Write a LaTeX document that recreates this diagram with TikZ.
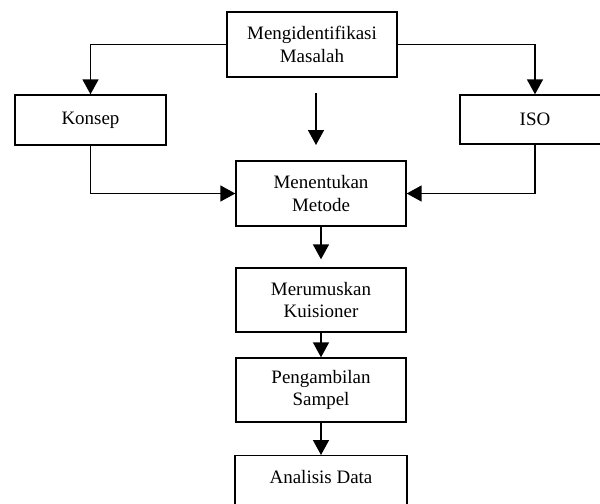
\documentclass[tikz,border=0pt]{standalone}
\usepackage{fontspec}
\setmainfont{Liberation Serif}
\usetikzlibrary{arrows.meta}

\tikzset{
	box/.style={draw, line width=0.8pt, align=center, inner sep=0pt,
		font=\fontsize{10.8}{13}\selectfont},
	flow/.style={line width=0.9pt, -{Triangle[width=0.32cm, length=0.3cm]}}
}

\begin{document}
\begin{tikzpicture}[x=0.02cm, y=-0.02cm]
	\useasboundingbox (0, 0) rectangle (600, 504);

	\node[box, minimum width=3.4cm, minimum height=1.3cm] (masalah) at (312, 44.5) {Mengidentifikasi\\Masalah};
	\node[box, minimum width=3.02cm, minimum height=1cm] (konsep) at (90.5, 120) {Konsep};
	\node[box, minimum width=3cm, minimum height=0.98cm] (iso) at (535, 119.5) {ISO};

	\node[box, minimum width=3.4cm, minimum height=1.3cm] (metode) at (321, 193.5) {Menentukan\\Metode};
	\node[box, minimum width=3.4cm, minimum height=1.28cm] (kuisioner) at (321, 300) {Merumuskan\\Kuisioner};
	\node[box, minimum width=3.4cm, minimum height=1.28cm] (sampel) at (321, 390) {Pengambilan\\Sampel};
	\node[box, minimum width=3.44cm, anchor=north, text height=0.56cm, text depth=1cm] (analisis) at (321, 455) {Analisis Data};

	% branches from the problem
	\draw[flow] (masalah.west) -| (konsep.north);
	\draw[flow] (masalah.east) -| (iso.north);
	\coordinate (gaptop) at (316, 93);
	\coordinate (gapend) at (316, 145);
	\draw[flow] (gaptop) -- (gapend);

	% into the method
	\draw[flow] (konsep.south) |- (metode.west);
	\draw[flow] (iso.south) |- (metode.east);

	% main chain
	\draw[flow, shorten >=0.16cm] (metode.south) -- (kuisioner.north);
	\draw[flow] (kuisioner.south) -- (sampel.north);
	\draw[flow] (sampel.south) -- (analisis.north);
\end{tikzpicture}
\end{document}
